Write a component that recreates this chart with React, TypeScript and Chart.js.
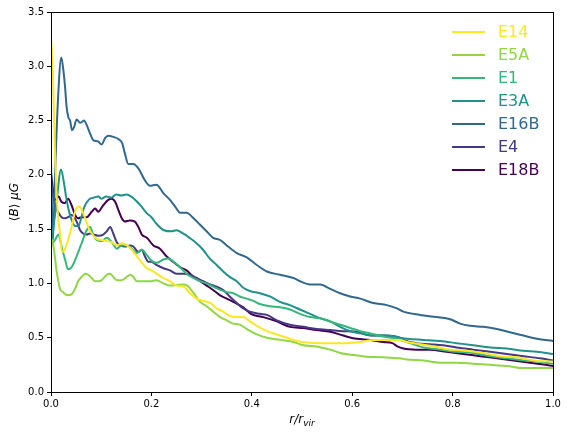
import React, { useEffect, useRef } from "react";
import { Chart, registerables } from "chart.js";

Chart.register(...registerables);

// Mean field strength <B> (μG) against r / r_vir for each run, as [r/r_vir, <B>] pairs.
const e14: [number, number][] = [
  [0, 3.27], [0.004, 2.9], [0.008, 2.2], [0.012, 1.75], [0.018, 1.45], [0.021, 1.31], [0.024, 1.29],
  [0.034, 1.4], [0.041, 1.52], [0.048, 1.66], [0.055, 1.71], [0.061, 1.68], [0.068, 1.6], [0.075, 1.51],
  [0.081, 1.46], [0.091, 1.41], [0.101, 1.4], [0.111, 1.39], [0.121, 1.38], [0.131, 1.35], [0.141, 1.37],
  [0.151, 1.35], [0.161, 1.31], [0.171, 1.25], [0.181, 1.19], [0.191, 1.14], [0.2, 1.12], [0.21, 1.09],
  [0.224, 1.05], [0.237, 1.02], [0.25, 0.98], [0.264, 0.97], [0.277, 0.91], [0.29, 0.86], [0.303, 0.84],
  [0.317, 0.82], [0.33, 0.77], [0.343, 0.74], [0.356, 0.7], [0.37, 0.69], [0.383, 0.69], [0.396, 0.65],
  [0.41, 0.61], [0.43, 0.56], [0.45, 0.53], [0.47, 0.5], [0.49, 0.47], [0.51, 0.455], [0.536, 0.45],
  [0.563, 0.45], [0.589, 0.45], [0.616, 0.46], [0.642, 0.48], [0.669, 0.48], [0.695, 0.48], [0.709, 0.46],
  [0.735, 0.44], [0.762, 0.42], [0.795, 0.39], [0.828, 0.38], [0.861, 0.36], [0.895, 0.33], [0.928, 0.32],
  [0.961, 0.29], [1.0, 0.28],
];

const e5a: [number, number][] = [
  [0, 1.42], [0.005, 1.34], [0.011, 1.12], [0.018, 0.95], [0.024, 0.92], [0.034, 0.89], [0.041, 0.9],
  [0.048, 0.95], [0.054, 1.02], [0.061, 1.06], [0.068, 1.09], [0.074, 1.08], [0.081, 1.05], [0.088, 1.02],
  [0.094, 1.02], [0.101, 1.03], [0.111, 1.08], [0.118, 1.09], [0.124, 1.06], [0.131, 1.03], [0.141, 1.03],
  [0.151, 1.06], [0.158, 1.08], [0.164, 1.06], [0.171, 1.02], [0.181, 1.02], [0.197, 1.02], [0.21, 1.03],
  [0.224, 1.0], [0.237, 0.98], [0.25, 0.985], [0.264, 0.99], [0.274, 0.97], [0.284, 0.91], [0.297, 0.83],
  [0.31, 0.79], [0.323, 0.74], [0.337, 0.69], [0.35, 0.66], [0.363, 0.63], [0.376, 0.62], [0.39, 0.58],
  [0.41, 0.53], [0.43, 0.5], [0.456, 0.48], [0.483, 0.46], [0.503, 0.43], [0.529, 0.42], [0.556, 0.39],
  [0.576, 0.36], [0.602, 0.34], [0.629, 0.325], [0.662, 0.32], [0.695, 0.31], [0.708, 0.3], [0.742, 0.29],
  [0.775, 0.27], [0.808, 0.27], [0.841, 0.26], [0.875, 0.25], [0.908, 0.24], [0.941, 0.22], [1.0, 0.22],
];

const e1: [number, number][] = [
  [0, 1.35], [0.008, 1.4], [0.015, 1.45], [0.021, 1.34], [0.028, 1.22], [0.034, 1.13], [0.041, 1.15],
  [0.051, 1.25], [0.061, 1.37], [0.071, 1.49], [0.078, 1.52], [0.084, 1.45], [0.091, 1.4], [0.101, 1.39],
  [0.111, 1.42], [0.121, 1.38], [0.131, 1.32], [0.141, 1.35], [0.151, 1.35], [0.161, 1.32], [0.171, 1.28],
  [0.181, 1.31], [0.191, 1.26], [0.2, 1.21], [0.21, 1.19], [0.224, 1.22], [0.234, 1.23], [0.244, 1.2],
  [0.257, 1.15], [0.27, 1.09], [0.284, 1.05], [0.297, 1.02], [0.31, 1.0], [0.323, 0.97], [0.337, 0.94],
  [0.35, 0.92], [0.363, 0.91], [0.376, 0.88], [0.39, 0.86], [0.403, 0.84], [0.416, 0.81], [0.436, 0.79],
  [0.456, 0.78], [0.476, 0.76], [0.496, 0.72], [0.516, 0.69], [0.536, 0.68], [0.556, 0.65], [0.576, 0.62],
  [0.596, 0.59], [0.616, 0.56], [0.636, 0.54], [0.662, 0.51], [0.689, 0.49], [0.715, 0.45], [0.742, 0.41],
  [0.775, 0.39], [0.808, 0.37], [0.841, 0.36], [0.875, 0.33], [0.908, 0.31], [0.941, 0.29], [0.968, 0.28],
  [1.0, 0.26],
];

const e3a: [number, number][] = [
  [0, 1.35], [0.01, 1.7], [0.02, 2.05], [0.026, 1.92], [0.03, 1.8], [0.035, 1.68], [0.04, 1.6],
  [0.048, 1.53], [0.055, 1.53], [0.06, 1.6], [0.066, 1.7], [0.075, 1.77], [0.085, 1.79], [0.095, 1.8],
  [0.1, 1.78], [0.11, 1.8], [0.12, 1.79], [0.13, 1.82], [0.14, 1.81], [0.15, 1.82], [0.16, 1.8],
  [0.17, 1.76], [0.18, 1.71], [0.19, 1.65], [0.2, 1.61], [0.21, 1.55], [0.225, 1.49], [0.24, 1.48],
  [0.25, 1.49], [0.263, 1.46], [0.276, 1.42], [0.29, 1.37], [0.303, 1.31], [0.316, 1.23], [0.33, 1.17],
  [0.343, 1.11], [0.356, 1.06], [0.37, 1.02], [0.383, 0.96], [0.396, 0.93], [0.416, 0.91], [0.436, 0.88],
  [0.456, 0.83], [0.476, 0.8], [0.496, 0.76], [0.516, 0.72], [0.536, 0.68], [0.556, 0.65], [0.576, 0.6],
  [0.596, 0.56], [0.616, 0.54], [0.642, 0.52], [0.669, 0.52], [0.695, 0.5], [0.709, 0.49], [0.742, 0.48],
  [0.775, 0.47], [0.808, 0.45], [0.841, 0.43], [0.875, 0.41], [0.908, 0.4], [0.941, 0.38], [0.968, 0.37],
  [1.0, 0.35],
];

const e16b: [number, number][] = [
  [0, 2.12], [0.004, 1.4], [0.008, 2.0], [0.014, 2.7], [0.0205, 3.08], [0.0245, 2.97], [0.028, 2.81],
  [0.031, 2.63], [0.0345, 2.53], [0.038, 2.5], [0.042, 2.41], [0.046, 2.44], [0.051, 2.51], [0.058, 2.48],
  [0.066, 2.5], [0.071, 2.46], [0.078, 2.38], [0.084, 2.32], [0.093, 2.31], [0.101, 2.28], [0.108, 2.34],
  [0.114, 2.36], [0.124, 2.35], [0.134, 2.33], [0.142, 2.29], [0.147, 2.2], [0.154, 2.1], [0.164, 2.1],
  [0.174, 2.06], [0.187, 1.95], [0.197, 1.9], [0.21, 1.91], [0.224, 1.83], [0.237, 1.77], [0.25, 1.69],
  [0.257, 1.65], [0.27, 1.65], [0.284, 1.6], [0.297, 1.54], [0.31, 1.48], [0.323, 1.42], [0.337, 1.4],
  [0.35, 1.35], [0.37, 1.28], [0.39, 1.24], [0.41, 1.17], [0.43, 1.11], [0.456, 1.08], [0.483, 1.05],
  [0.496, 1.02], [0.516, 0.99], [0.536, 0.99], [0.556, 0.95], [0.576, 0.91], [0.596, 0.88], [0.616, 0.86],
  [0.642, 0.82], [0.669, 0.8], [0.689, 0.77], [0.702, 0.74], [0.735, 0.71], [0.768, 0.69], [0.795, 0.67],
  [0.815, 0.63], [0.835, 0.61], [0.861, 0.6], [0.888, 0.58], [0.914, 0.55], [0.941, 0.52], [0.968, 0.49],
  [1.0, 0.47],
];

const e4: [number, number][] = [
  [0, 1.92], [0.008, 1.72], [0.015, 1.65], [0.021, 1.61], [0.028, 1.6], [0.034, 1.61], [0.041, 1.63],
  [0.051, 1.57], [0.058, 1.49], [0.064, 1.46], [0.071, 1.45], [0.078, 1.46], [0.084, 1.45], [0.094, 1.44],
  [0.104, 1.45], [0.111, 1.48], [0.118, 1.52], [0.124, 1.46], [0.131, 1.38], [0.138, 1.35], [0.148, 1.34],
  [0.157, 1.35], [0.164, 1.34], [0.174, 1.29], [0.181, 1.31], [0.187, 1.25], [0.194, 1.2], [0.2, 1.2],
  [0.21, 1.17], [0.224, 1.14], [0.237, 1.12], [0.25, 1.09], [0.264, 1.09], [0.277, 1.08], [0.29, 1.05],
  [0.303, 1.02], [0.317, 0.99], [0.33, 0.97], [0.343, 0.94], [0.356, 0.88], [0.37, 0.82], [0.383, 0.77],
  [0.396, 0.74], [0.416, 0.72], [0.43, 0.71], [0.45, 0.66], [0.476, 0.62], [0.503, 0.6], [0.529, 0.58],
  [0.556, 0.57], [0.582, 0.56], [0.609, 0.555], [0.636, 0.52], [0.662, 0.52], [0.695, 0.5], [0.702, 0.48],
  [0.728, 0.45], [0.755, 0.44], [0.781, 0.43], [0.808, 0.41], [0.841, 0.39], [0.875, 0.37], [0.908, 0.35],
  [0.941, 0.33], [0.974, 0.31], [1.0, 0.29],
];

const e18b: [number, number][] = [
  [0, 2.01], [0.008, 1.77], [0.015, 1.8], [0.021, 1.75], [0.028, 1.74], [0.034, 1.78], [0.041, 1.72],
  [0.048, 1.63], [0.054, 1.6], [0.061, 1.61], [0.071, 1.61], [0.081, 1.66], [0.088, 1.69], [0.094, 1.66],
  [0.104, 1.72], [0.114, 1.77], [0.121, 1.78], [0.128, 1.75], [0.134, 1.68], [0.141, 1.6], [0.147, 1.57],
  [0.157, 1.58], [0.167, 1.57], [0.174, 1.52], [0.181, 1.45], [0.191, 1.42], [0.204, 1.35], [0.217, 1.32],
  [0.23, 1.25], [0.243, 1.2], [0.257, 1.15], [0.27, 1.12], [0.284, 1.06], [0.297, 1.02], [0.31, 0.98],
  [0.323, 0.94], [0.337, 0.89], [0.35, 0.86], [0.363, 0.83], [0.383, 0.78], [0.398, 0.72], [0.423, 0.69],
  [0.45, 0.65], [0.476, 0.6], [0.503, 0.59], [0.529, 0.57], [0.556, 0.555], [0.582, 0.52], [0.609, 0.49],
  [0.636, 0.48], [0.662, 0.46], [0.68, 0.45], [0.69, 0.42], [0.702, 0.4], [0.728, 0.39], [0.755, 0.39],
  [0.788, 0.37], [0.821, 0.35], [0.855, 0.33], [0.888, 0.31], [0.921, 0.29], [0.954, 0.27], [1.0, 0.24],
];

const runNames = ["E14", "E5A", "E1", "E3A", "E16B", "E4", "E18B"];
const runProfiles = [e14, e5a, e1, e3a, e16b, e4, e18b];
// viridis sampled evenly from 1 down to 0
const runColors = ["#fde725", "#90d743", "#35b779", "#21918c", "#31688e", "#443983", "#440154"];

const xTicks = [0, 0.2, 0.4, 0.6, 0.8, 1.0];
const yTicks = [0, 0.5, 1.0, 1.5, 2.0, 2.5, 3.0, 3.5];

const FONT = "'DejaVu Sans', sans-serif";

// Draws the frame, the in-plot legend and the math-style axis titles.
const decorations = {
  id: "decorations",
  afterDraw(chart: any) {
    const { ctx, chartArea } = chart;
    const { left, right, top, bottom } = chartArea;
    ctx.save();

    // frame on all four sides
    ctx.strokeStyle = "#000";
    ctx.lineWidth = 1;
    ctx.strokeRect(Math.round(left) + 0.5, Math.round(top) + 0.5, Math.round(right - left), Math.round(bottom - top));

    // legend, top right inside the axes
    ctx.font = `16px ${FONT}`;
    ctx.textBaseline = "middle";
    ctx.textAlign = "left";
    runNames.forEach((name, i) => {
      const y = 32 + i * 23;
      ctx.strokeStyle = runColors[i];
      ctx.lineWidth = 2;
      ctx.beginPath();
      ctx.moveTo(452, y);
      ctx.lineTo(485, y);
      ctx.stroke();
      ctx.fillStyle = runColors[i];
      ctx.fillText(name, 498, y + 1);
    });

    // x title: r/r_vir
    ctx.fillStyle = "#000";
    ctx.textBaseline = "alphabetic";
    const main = "r/r";
    const sub = "vir";
    ctx.font = `italic 12px ${FONT}`;
    const wMain = ctx.measureText(main).width;
    ctx.font = `italic 9px ${FONT}`;
    const wSub = ctx.measureText(sub).width;
    const cx = (left + right) / 2;
    const xs = cx - (wMain + wSub) / 2;
    const baseY = 423;
    ctx.font = `italic 12px ${FONT}`;
    ctx.fillText(main, xs, baseY);
    ctx.font = `italic 9px ${FONT}`;
    ctx.fillText(sub, xs + wMain, baseY + 2.5);

    // y title: <B> μG, rotated
    ctx.translate(18, (top + bottom) / 2);
    ctx.rotate(-Math.PI / 2);
    const parts: [string, string][] = [
      ["⟨", `12px ${FONT}`],
      ["B", `italic 12px ${FONT}`],
      ["⟩", `12px ${FONT}`],
      [" ", `12px ${FONT}`],
      ["μG", `italic 12px ${FONT}`],
    ];
    let total = 0;
    parts.forEach(([t, f]) => {
      ctx.font = f;
      total += ctx.measureText(t).width;
    });
    let px = -total / 2;
    parts.forEach(([t, f]) => {
      ctx.font = f;
      ctx.fillText(t, px, 0);
      px += ctx.measureText(t).width;
    });
    ctx.restore();
  },
};

export default function App() {
  const canvasRef = useRef<HTMLCanvasElement | null>(null);

  useEffect(() => {
    const canvas = canvasRef.current;
    if (!canvas) return;

    const datasets = runProfiles.map((profile, i) => ({
      label: runNames[i],
      data: profile.map(([r, b]) => ({ x: r, y: b })),
      borderColor: runColors[i],
      backgroundColor: runColors[i],
      borderWidth: 2,
      pointRadius: 0,
      cubicInterpolationMode: "monotone" as const,
      fill: false,
    }));

    const chart = new Chart(canvas, {
      type: "line",
      data: { datasets },
      plugins: [decorations],
      options: {
        animation: false,
        responsive: false,
        maintainAspectRatio: false,
        layout: { padding: { left: 0, top: 12, right: 15, bottom: 0 } },
        plugins: { legend: { display: false }, tooltip: { enabled: false } },
        scales: {
          x: {
            type: "linear",
            min: 0,
            max: 1,
            afterBuildTicks: (scale: any) => {
              scale.ticks = xTicks.map((v) => ({ value: v }));
            },
            afterFit: (scale: any) => {
              scale.height = 43;
            },
            ticks: {
              color: "#000",
              font: { family: FONT, size: 10 },
              padding: 2,
              maxRotation: 0,
              callback: (v: any) => Number(v).toFixed(1),
            },
            grid: { display: true, drawOnChartArea: false, drawTicks: true, tickLength: 4, color: "#000" },
            border: { display: true, color: "#000" },
          },
          y: {
            type: "linear",
            min: 0,
            max: 3.5,
            afterBuildTicks: (scale: any) => {
              scale.ticks = yTicks.map((v) => ({ value: v }));
            },
            afterFit: (scale: any) => {
              scale.width = 51;
            },
            ticks: {
              color: "#000",
              font: { family: FONT, size: 10 },
              padding: 3,
              callback: (v: any) => Number(v).toFixed(1),
            },
            grid: { display: true, drawOnChartArea: false, drawTicks: true, tickLength: 4, color: "#000" },
            border: { display: true, color: "#000" },
          },
        },
      },
    });

    return () => chart.destroy();
  }, []);

  return (
    <div style={{ position: "absolute", left: 0, top: 0, width: 568, height: 435, background: "#fff" }}>
      <canvas ref={canvasRef} width={568} height={435} style={{ width: 568, height: 435 }} />
    </div>
  );
}
